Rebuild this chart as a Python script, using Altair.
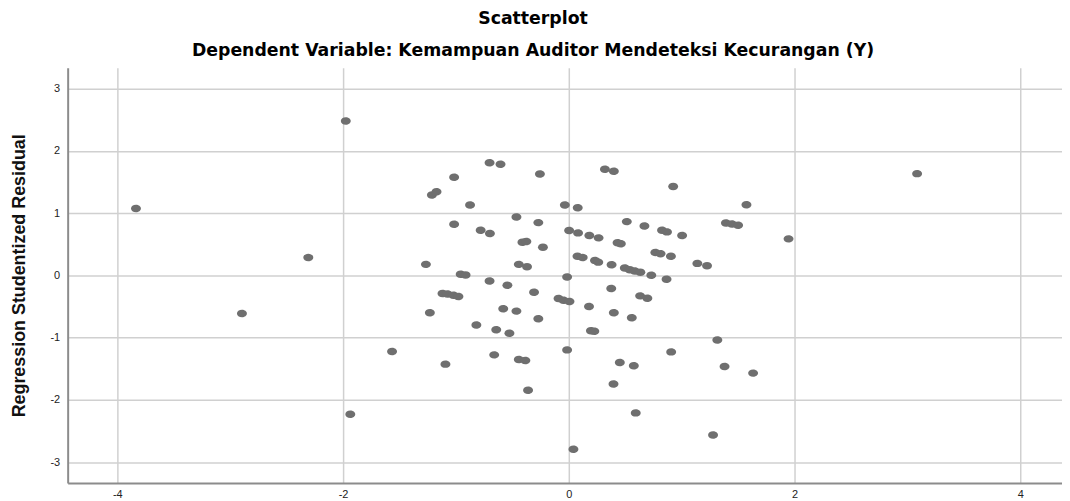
import altair as alt
import pandas as pd

# Regression Standardized Predicted Value (x) and Studentized Residual (y)
pred = [
    -3.835, -2.896, -2.308, -1.976, -1.936, -1.566, 0.041, 1.278, 0.593, -0.361,
    -0.015, 0.376, -0.091, -0.047, 0.006, 0.179, 0.632, 0.696, 0.399, 0.558,
    0.196, 0.226, -0.015, 1.316, 0.907, 0.452, 0.576, 1.380, 1.633, 0.396,
    0.731, 0.866, 1.139, 1.225, -1.266, -0.443, -0.370, -0.958, -0.914, -0.702,
    -0.544, -0.308, -1.119, -1.075, -1.022, -0.978, -1.231, -0.581, -0.464, -0.270,
    -0.819, -0.643, -0.526, -1.093, -0.661, -0.443, -0.385, -0.702, -0.605, -0.256,
    -1.016, -1.213, -1.172, -0.875, -0.035, 0.079, -0.464, -0.270, -1.016, -0.781,
    -0.699, 0.003, 0.082, -0.411, -0.376, -0.229, 0.077, 0.123, 0.320, 0.399,
    0.925, 1.574, 0.514, 0.670, 0.826, 0.870, 1.004, 1.392, 1.445, 1.500,
    1.947, 0.182, 0.264, 0.432, 0.461, 0.767, 0.813, 0.905, 0.232, 0.261,
    0.379, 0.496, 0.540, 0.584, 0.634, 3.086,
]
resid = [
    1.075, -0.612, 0.288, 2.481, -2.231, -1.225, -2.796, -2.567, -2.210, -1.848,
    -0.027, -0.213, -0.372, -0.399, -0.420, -0.500, -0.330, -0.367, -0.602, -0.682,
    -0.890, -0.900, -1.198, -1.038, -1.230, -1.401, -1.454, -1.464, -1.571, -1.747,
    0.000, -0.064, 0.192, 0.155, 0.176, 0.176, 0.139, 0.016, 0.005, -0.091,
    -0.160, -0.272, -0.292, -0.299, -0.319, -0.340, -0.602, -0.538, -0.575, -0.698,
    -0.799, -0.873, -0.932, -1.427, -1.278, -1.353, -1.369, 1.810, 1.784, 1.629,
    1.576, 1.289, 1.342, 1.129, 1.129, 1.086, 0.937, 0.847, 0.820, 0.724,
    0.671, 0.719, 0.682, 0.532, 0.543, 0.452, 0.308, 0.288, 1.704, 1.672,
    1.427, 1.134, 0.863, 0.794, 0.724, 0.698, 0.639, 0.842, 0.826, 0.804,
    0.586, 0.639, 0.602, 0.522, 0.506, 0.367, 0.347, 0.308, 0.240, 0.212,
    0.171, 0.117, 0.091, 0.069, 0.048, 1.634,
]
x_ticks = [-4, -2, 0, 2, 4]
y_ticks = [-3, -2, -1, 0, 1, 2, 3]

df = pd.DataFrame({"pred": pred, "resid": resid})

ellipse = "M-1,0A1,0.75,0,1,0,1,0A1,0.75,0,1,0,-1,0Z"

PLOT_W = 1000
PLOT_H = 417.5

chart = (
    alt.Chart(df)
    .mark_point(shape=ellipse, filled=True, size=100, color="#6f6f6f",
                opacity=1, strokeWidth=0)
    .encode(
        x=alt.X(
            "pred:Q",
            scale=alt.Scale(domain=[-4.44, 4.37], nice=False, zero=False),
            axis=alt.Axis(
                values=x_ticks, title=None, ticks=False, tickSize=0,
                labelPadding=6, labelFontSize=11, labelFont="Liberation Sans",
                labelColor="#222222", labelExpr="'' + datum.value",
                domainColor="#8c8c8c", domainWidth=2,
                gridColor="#d0d0d0", gridWidth=1.5,
            ),
        ),
        y=alt.Y(
            "resid:Q",
            scale=alt.Scale(domain=[-3.335, 3.335], nice=False, zero=False),
            axis=alt.Axis(
                values=y_ticks, title="Regression Studentized Residual",
                titleX=-48, titleY=PLOT_H / 2, titleAngle=270,
                titleAlign="center", titleBaseline="middle",
                titleFont="Liberation Sans", titleFontSize=18,
                titleFontWeight="bold", titleColor="#111111",
                ticks=False, tickSize=0, labelPadding=8, labelFontSize=11,
                labelFont="Liberation Sans", labelColor="#222222",
                labelExpr="'' + datum.value",
                domainColor="#8c8c8c", domainWidth=2,
                gridColor="#d0d0d0", gridWidth=1.5,
            ),
        ),
    )
    .properties(
        width=PLOT_W,
        height=PLOT_H,
        title=alt.TitleParams(
            text="Scatterplot",
            subtitle="Dependent Variable: Kemampuan Auditor Mendeteksi Kecurangan (Y)",
            anchor="middle", frame="group", dx=-32,
            font="DejaVu Sans", fontSize=17.4, fontWeight="bold", color="#000000",
            subtitleFont="DejaVu Sans", subtitleFontSize=17.4,
            subtitleFontWeight="bold", subtitleColor="#000000",
            subtitlePadding=15, offset=8,
        ),
        autosize=alt.AutoSizeParams(type="none"),
        padding={"left": 60, "top": 58.7, "right": 0, "bottom": 18},
    )
    .configure_view(stroke=None)
)

chart.save("out.html", embed_options={"renderer": "svg", "actions": False})
